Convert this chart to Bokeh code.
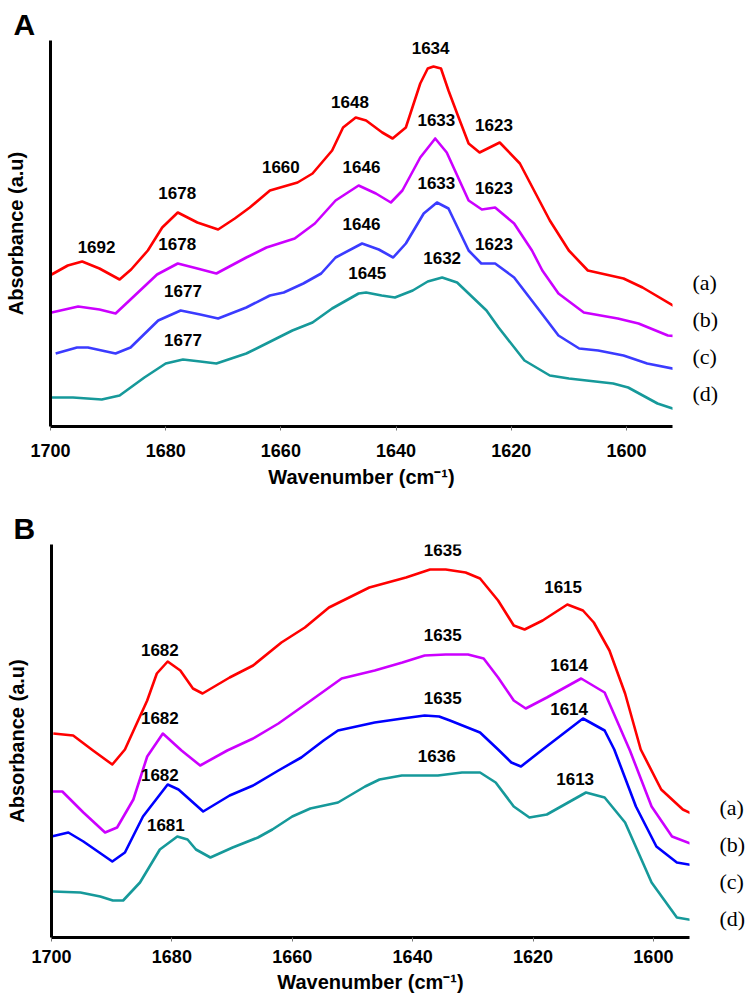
import numpy as np
from bokeh.plotting import figure
from bokeh.models import Range1d, FixedTicker, LinearAxis
from bokeh.embed import file_html
from bokeh.resources import INLINE
from bokeh.core.properties import value

# ---------------- Panel A data (wavenumber cm-1, absorbance a.u.) ----------------
A_a_wn = [1699.8, 1697.0, 1694.5, 1691.5, 1688.0, 1686.0, 1683.1, 1680.6, 1677.9, 1674.5, 1670.9, 1668.0,
          1665.4, 1661.9, 1657.1, 1654.5, 1651.1, 1649.2, 1647.0, 1645.2, 1642.4, 1640.6, 1638.3, 1635.8,
          1634.5, 1633.5, 1632.2, 1630.9, 1629.4, 1627.4, 1625.5, 1622.0, 1618.5, 1613.3, 1610.0, 1606.7,
          1600.5, 1597.2, 1591.3, 1586.2]
A_a_abs = [1.52, 1.61, 1.65, 1.58, 1.47, 1.57, 1.76, 1.99, 2.14, 2.04, 1.97, 2.08,
           2.19, 2.36, 2.44, 2.53, 2.76, 2.99, 3.09, 3.06, 2.94, 2.88, 2.99, 3.43,
           3.58, 3.60, 3.58, 3.36, 3.13, 2.83, 2.74, 2.84, 2.63, 2.06, 1.76, 1.56,
           1.48, 1.39, 1.19, 1.09]

A_b_wn = [1699.8, 1695.2, 1691.5, 1688.7, 1685.0, 1681.5, 1677.9, 1674.5, 1671.2, 1666.0, 1662.5, 1657.6,
          1654.1, 1650.5, 1646.5, 1643.5, 1640.9, 1638.9, 1635.8, 1633.2, 1631.2, 1627.4, 1625.1, 1622.8,
          1619.5, 1616.4, 1614.6, 1611.8, 1607.4, 1601.5, 1597.9, 1592.8, 1587.7]
A_b_abs = [1.14, 1.20, 1.17, 1.13, 1.33, 1.52, 1.63, 1.58, 1.53, 1.69, 1.79, 1.88,
           2.03, 2.26, 2.41, 2.33, 2.24, 2.36, 2.69, 2.88, 2.74, 2.26, 2.17, 2.19,
           2.03, 1.76, 1.56, 1.33, 1.14, 1.08, 1.03, 0.91, 0.89]

A_c_wn = [1699.1, 1695.4, 1693.5, 1688.7, 1686.1, 1681.3, 1677.4, 1674.0, 1670.9, 1666.0, 1661.9, 1659.5,
          1656.1, 1653.0, 1650.5, 1645.9, 1643.0, 1640.5, 1638.3, 1635.2, 1632.9, 1630.9, 1627.4, 1625.2,
          1622.8, 1619.5, 1615.1, 1611.8, 1608.2, 1604.9, 1600.5, 1596.4, 1587.7]
A_c_abs = [0.73, 0.79, 0.79, 0.73, 0.79, 1.06, 1.16, 1.12, 1.08, 1.19, 1.31, 1.34,
           1.43, 1.53, 1.69, 1.83, 1.77, 1.69, 1.83, 2.13, 2.24, 2.18, 1.76, 1.63,
           1.63, 1.49, 1.16, 0.91, 0.78, 0.76, 0.71, 0.63, 0.53]

A_d_wn = [1699.8, 1696.1, 1691.1, 1688.0, 1683.7, 1680.0, 1677.0, 1674.0, 1671.2, 1666.0, 1662.5, 1658.0,
          1654.5, 1651.1, 1646.5, 1645.2, 1642.5, 1640.2, 1637.1, 1634.5, 1632.0, 1629.4, 1624.3, 1622.2,
          1617.7, 1613.3, 1610.0, 1602.3, 1599.7, 1594.6, 1587.7]
A_d_abs = [0.29, 0.29, 0.27, 0.31, 0.49, 0.63, 0.67, 0.65, 0.63, 0.73, 0.83, 0.96,
           1.04, 1.18, 1.33, 1.34, 1.31, 1.29, 1.36, 1.45, 1.49, 1.44, 1.16, 0.99,
           0.66, 0.51, 0.48, 0.43, 0.39, 0.23, 0.10]

A_peaks_a = [1692, 1678, 1660, 1648, 1634, 1623]
A_peaks_b = [1678, 1646, 1633, 1623]
A_peaks_c = [1677, 1646, 1633, 1623]
A_peaks_d = [1677, 1645, 1632]

# ---------------- Panel B data ----------------
B_a_wn = [1699.7, 1696.4, 1693.1, 1689.9, 1687.8, 1684.1, 1682.5, 1680.7, 1678.6, 1676.5, 1674.9, 1670.4,
          1666.5, 1661.8, 1657.9, 1653.9, 1647.2, 1641.1, 1637.1, 1634.5, 1631.2, 1628.8, 1625.8, 1623.2,
          1621.4, 1618.4, 1614.3, 1611.7, 1609.9, 1607.3, 1604.7, 1602.1, 1598.7, 1595.1, 1591.2]
B_a_abs = [2.04, 2.02, 1.87, 1.73, 1.88, 2.37, 2.64, 2.76, 2.67, 2.49, 2.44, 2.60,
           2.72, 2.95, 3.10, 3.30, 3.50, 3.60, 3.68, 3.68, 3.65, 3.59, 3.37, 3.12,
           3.08, 3.17, 3.33, 3.27, 3.15, 2.87, 2.44, 1.88, 1.48, 1.28, 1.17]

B_b_wn = [1700.0, 1698.2, 1694.7, 1691.1, 1689.1, 1686.4, 1684.1, 1681.5, 1678.4, 1675.3, 1670.8, 1666.5,
          1662.3, 1656.9, 1651.8, 1646.3, 1641.7, 1638.0, 1634.5, 1630.8, 1628.2, 1625.8, 1623.2, 1621.2,
          1617.7, 1612.0, 1608.1, 1603.9, 1600.3, 1596.9, 1593.0]
B_b_abs = [1.46, 1.46, 1.25, 1.05, 1.10, 1.38, 1.81, 2.04, 1.87, 1.72, 1.87, 1.99,
           2.14, 2.37, 2.59, 2.67, 2.75, 2.82, 2.83, 2.83, 2.79, 2.60, 2.37, 2.29,
           2.40, 2.59, 2.45, 1.87, 1.31, 1.01, 0.92]

B_c_wn = [1700.0, 1697.2, 1694.7, 1689.9, 1687.8, 1684.8, 1680.7, 1678.9, 1674.8, 1670.4, 1666.5, 1662.3,
          1658.5, 1654.8, 1652.4, 1646.3, 1641.7, 1638.0, 1635.6, 1633.8, 1628.8, 1625.8, 1623.6, 1622.0,
          1618.4, 1611.7, 1608.1, 1606.5, 1602.9, 1599.5, 1596.1, 1591.2]
B_c_abs = [1.01, 1.05, 0.96, 0.76, 0.85, 1.21, 1.53, 1.48, 1.26, 1.42, 1.52, 1.67,
           1.80, 1.97, 2.07, 2.15, 2.19, 2.22, 2.21, 2.17, 2.05, 1.88, 1.75, 1.71,
           1.88, 2.19, 2.07, 1.88, 1.31, 0.91, 0.75, 0.70]

B_d_wn = [1699.8, 1695.2, 1691.9, 1689.8, 1688.1, 1685.3, 1682.0, 1679.1, 1677.4, 1676.0, 1673.6, 1669.9,
          1665.7, 1663.3, 1660.0, 1657.0, 1652.4, 1647.9, 1645.5, 1641.8, 1635.8, 1631.8, 1628.8, 1626.2,
          1623.2, 1620.6, 1617.7, 1611.2, 1608.1, 1604.7, 1600.3, 1596.1, 1591.2]
B_d_abs = [0.46, 0.45, 0.41, 0.37, 0.37, 0.55, 0.88, 1.01, 0.98, 0.88, 0.80, 0.90,
           1.00, 1.08, 1.21, 1.29, 1.35, 1.51, 1.58, 1.62, 1.62, 1.65, 1.65, 1.55,
           1.31, 1.20, 1.23, 1.45, 1.40, 1.15, 0.55, 0.20, 0.15]

B_peaks_a = [1682, 1635, 1615]
B_peaks_b = [1682, 1635, 1614]
B_peaks_c = [1682, 1635, 1614]
B_peaks_d = [1681, 1636, 1613]

x_ticks = [1700, 1680, 1660, 1640, 1620, 1600]
series_names = ["(a)", "(b)", "(c)", "(d)"]

COLORS_A = ["#FF0000", "#CC00FF", "#3B3BFF", "#16999A"]
COLORS_B = ["#FF0000", "#CC00FF", "#0000FF", "#16999A"]
SANS = "Liberation Sans"
SERIF = "Liberation Serif"
LABEL_GAP = 0.20
NAME_STEP = 0.37


def make_panel(letter, curves, peaks, colors, x_start, x_end, y_top, height,
               b_left, b_right, b_top, b_bottom, letter_dx, name_y0, name_standoff,
               tick_standoff, label_standoff, ylabel_standoff):
    p = figure(width=749, height=height, x_range=Range1d(x_start, x_end),
               y_range=Range1d(0, y_top), output_backend="svg", toolbar_location=None,
               min_border_left=b_left, min_border_right=b_right,
               min_border_top=b_top, min_border_bottom=b_bottom, title=letter)
    p.grid.visible = False
    p.outline_line_color = None
    p.background_fill_color = "white"
    p.border_fill_color = "white"

    p.title.align = "left"
    p.title.offset = letter_dx
    p.title.standoff = 0
    p.title.text_font = SANS
    p.title.text_font_style = "bold"
    p.title.text_font_size = "30px"
    p.title.text_color = "black"

    for (wn, ab), col, pk in zip(curves, colors, peaks):
        p.line(wn, ab, line_color=col, line_width=2.6, line_join="round")
        xs = np.array(wn)[::-1]
        ys = np.array(ab)[::-1]
        ly = np.interp(pk, xs, ys) + LABEL_GAP
        p.text(x=pk, y=list(ly), text=[str(v) for v in pk],
               text_font=value(SANS), text_font_style="bold", text_font_size=value("17px"),
               text_align="center", text_baseline="middle", text_color="black")

    xa = p.xaxis[0]
    xa.ticker = FixedTicker(ticks=x_ticks)
    xa.axis_line_width = 3
    xa.axis_line_color = "black"
    xa.major_tick_out = 4
    xa.major_tick_in = 0
    xa.major_tick_line_color = "#777777"
    xa.minor_tick_out = 0
    xa.minor_tick_in = 0
    xa.major_label_standoff = tick_standoff
    xa.major_label_text_font = SANS
    xa.major_label_text_font_style = "bold"
    xa.major_label_text_font_size = "18px"
    xa.major_label_text_color = "black"
    xa.axis_label = "Wavenumber (cm\u207b\u00b9)"
    xa.axis_label_text_font = SANS
    xa.axis_label_text_font_style = "bold"
    xa.axis_label_text_font_size = "20px"
    xa.axis_label_text_color = "black"
    xa.axis_label_standoff = label_standoff

    ya = p.yaxis[0]
    ya.ticker = FixedTicker(ticks=[])
    ya.axis_line_width = 3
    ya.axis_line_color = "black"
    ya.major_tick_out = 0
    ya.major_tick_in = 0
    ya.minor_tick_out = 0
    ya.minor_tick_in = 0
    ya.major_label_text_font_size = "0px"
    ya.axis_label = "Absorbance (a.u)"
    ya.axis_label_text_font = SANS
    ya.axis_label_text_font_style = "bold"
    ya.axis_label_text_font_size = "20px"
    ya.axis_label_text_color = "black"
    ya.axis_label_standoff = ylabel_standoff

    # series names (a)-(d) as labels of a right-hand axis, one tick per series
    n = len(series_names)
    t0 = n - name_y0 / NAME_STEP
    t1 = n - (name_y0 - y_top) / NAME_STEP
    p.extra_y_ranges = {"names": Range1d(t0, t1)}
    name_axis = LinearAxis(y_range_name="names",
                           ticker=FixedTicker(ticks=list(range(1, n + 1))),
                           major_label_overrides={n - i: nm for i, nm in enumerate(series_names)})
    name_axis.axis_line_color = None
    name_axis.major_tick_out = 0
    name_axis.major_tick_in = 0
    name_axis.minor_tick_out = 0
    name_axis.minor_tick_in = 0
    name_axis.major_label_standoff = name_standoff
    name_axis.major_label_text_font = SERIF
    name_axis.major_label_text_font_size = "22px"
    name_axis.major_label_text_color = "black"
    p.add_layout(name_axis, "right")
    return p


pA = make_panel("A",
                [(A_a_wn, A_a_abs), (A_b_wn, A_b_abs), (A_c_wn, A_c_abs), (A_d_wn, A_d_abs)],
                [A_peaks_a, A_peaks_b, A_peaks_c, A_peaks_d], COLORS_A,
                1700, 1592, 3.86, 505, 50, 77, 40, 79, -37, 1.44, 20, 13, 6, 24)
pB = make_panel("B",
                [(B_a_wn, B_a_abs), (B_b_wn, B_b_abs), (B_c_wn, B_c_abs), (B_d_wn, B_d_abs)],
                [B_peaks_a, B_peaks_b, B_peaks_c, B_peaks_d], COLORS_B,
                1700, 1594, 3.93, 492, 51, 60, 39, 60, -38, 1.30, 30, 8, 5, 24)

# two independent roots, stacked, so that each panel keeps its own frame position
open("out.html", "w").write(file_html([pA, pB], INLINE))
